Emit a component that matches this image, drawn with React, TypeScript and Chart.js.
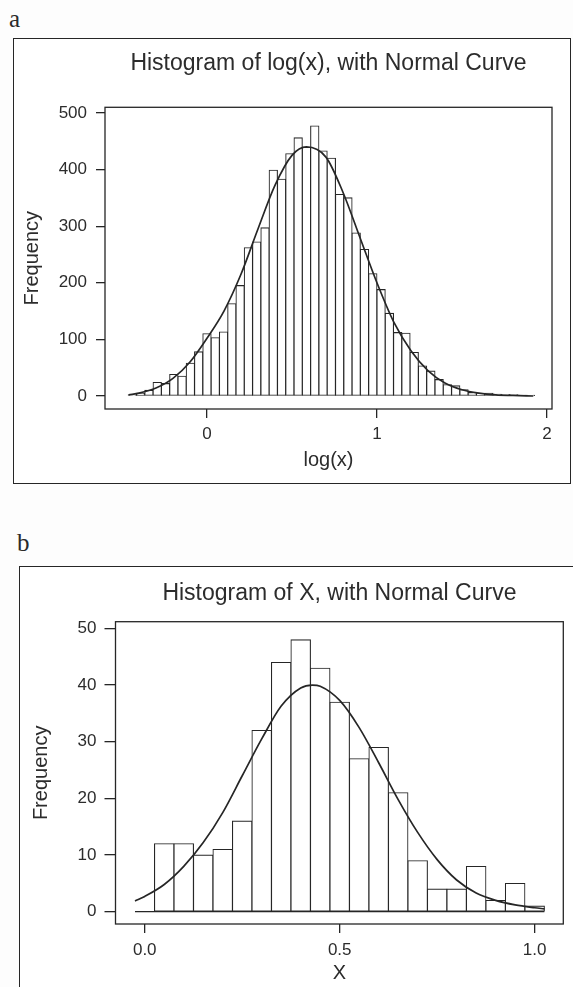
import React, { useEffect, useRef } from "react";
import { Chart, registerables } from "chart.js";

Chart.register(...registerables);

// ---------- Panel a: Histogram of log(x) ----------
const binMidsA = [
  -0.439, -0.3902, -0.3415, -0.2927, -0.2439, -0.1951, -0.1463, -0.0976, -0.0488,
  0, 0.0488, 0.0976, 0.1463, 0.1951, 0.2439, 0.2927, 0.3415, 0.3902, 0.439, 0.4878,
  0.5366, 0.5854, 0.6341, 0.6829, 0.7317, 0.7805, 0.8293, 0.878, 0.9268, 0.9756,
  1.0244, 1.0732, 1.122, 1.1707, 1.2195, 1.2683, 1.3171, 1.3659, 1.4146, 1.4634,
  1.5122, 1.561, 1.6098, 1.6585, 1.7073, 1.7561, 1.8049, 1.8537, 1.9024,
];
const countsA = [
  2, 5, 10, 24, 22, 38, 35, 58, 78,
  110, 103, 113, 163, 195, 262, 272, 297, 399, 383, 428,
  456, 439, 477, 433, 420, 356, 350, 288, 259, 216,
  188, 146, 112, 111, 77, 53, 44, 29, 20, 18,
  11, 6, 4, 5, 3, 2, 2, 1, 1,
];
const curveAX = [-0.46, -0.4, -0.3, -0.2, -0.1, 0, 0.1, 0.2, 0.3, 0.4, 0.5, 0.585, 0.7, 0.8, 0.9, 1.0, 1.1, 1.2, 1.3, 1.4, 1.5, 1.6, 1.7, 1.8, 1.92];
const curveAY = [2, 5, 14, 31, 60, 102, 150, 215, 295, 372, 425, 440, 422, 360, 280, 200, 130, 80, 45, 23, 11, 5, 2, 1, 0];
const xTicksA = [0, 1, 2];
const yTicksA = [0, 100, 200, 300, 400, 500];

// ---------- Panel b: Histogram of X ----------
const binMidsB = [0.05, 0.1, 0.15, 0.2, 0.25, 0.3, 0.35, 0.4, 0.45, 0.5, 0.55, 0.6, 0.65, 0.7, 0.75, 0.8, 0.85, 0.9, 0.95, 1.0];
const countsB = [12, 12, 10, 11, 16, 32, 44, 48, 43, 37, 27, 29, 21, 9, 4, 4, 8, 2, 5, 1];
const curveBX = [-0.025, 0.0, 0.05, 0.1, 0.15, 0.2, 0.25, 0.3, 0.35, 0.4, 0.43, 0.45, 0.5, 0.55, 0.6, 0.65, 0.7, 0.75, 0.8, 0.85, 0.9, 0.95, 1.0, 1.025];
const curveBY = [1.9, 2.7, 4.8, 8.0, 12.2, 17.5, 24.0, 30.5, 36.3, 39.5, 40.0, 39.8, 37.3, 32.5, 26.3, 19.8, 14.0, 9.2, 5.6, 3.3, 2.0, 1.2, 0.7, 0.5];
const xTicksB = [0, 0.5, 1];
const yTicksB = [0, 10, 20, 30, 40, 50];

const LINE = "#262626";
const TEXT = "#2c2c2c";
const FONT = "'Liberation Sans', Arial, Helvetica, sans-serif";

type Spec = {
  title: string;
  xTitle: string;
  mids: number[];
  counts: number[];
  cx: number[];
  cy: number[];
  zeroLine: boolean;
  xMin: number;
  xMax: number;
  yMin: number;
  yMax: number;
  xTicks: number[];
  yTicks: number[];
  xDecimals: number;
  width: number;
  height: number;
  yAxisWidth: number;
  xAxisHeight: number;
  padRight: number;
  titlePadTop: number;
  titlePadBottom: number;
  yTitlePad: number;
  yTickLen: number;
  yTickPad: number;
  xTickLen: number;
  xTickPad: number;
  xTitlePadBottom: number;
};

const plotBox = {
  id: "plotBox",
  afterDraw(chart: any) {
    const { ctx, chartArea: a } = chart;
    ctx.save();
    ctx.strokeStyle = LINE;
    ctx.lineWidth = 1.3;
    ctx.strokeRect(a.left, a.top, a.right - a.left, a.bottom - a.top);
    ctx.restore();
  },
};

function Panel({ spec, left, top }: { spec: Spec; left: number; top: number }) {
  const ref = useRef<HTMLCanvasElement>(null);
  useEffect(() => {
    const datasets: any[] = [
      {
        type: "line",
        data: spec.cx.map((x, i) => ({ x, y: spec.cy[i] })),
        borderColor: LINE,
        borderWidth: 1.7,
        pointRadius: 0,
        fill: false,
        cubicInterpolationMode: "monotone",
        order: 0,
      },
      {
        type: "bar",
        data: spec.mids.map((x, i) => ({ x, y: spec.counts[i] })),
        backgroundColor: "#ffffff",
        borderColor: LINE,
        borderWidth: 1.1,
        borderSkipped: false,
        inflateAmount: 0.5,
        barPercentage: 1,
        categoryPercentage: 1,
        order: 1,
      },
    ];
    if (spec.zeroLine) {
      datasets.push({
        type: "line",
        data: [
          { x: spec.cx[0], y: 0 },
          { x: spec.cx[spec.cx.length - 1], y: 0 },
        ],
        borderColor: LINE,
        borderWidth: 1.2,
        pointRadius: 0,
        fill: false,
        order: 2,
      });
    }
    const chart = new Chart(ref.current!, {
      type: "bar",
      data: { datasets },
      options: {
        animation: false,
        responsive: false,
        devicePixelRatio: 1,
        events: [],
        layout: { padding: { left: 0, right: spec.padRight, top: 0, bottom: 0 } },
        plugins: {
          legend: { display: false },
          tooltip: { enabled: false },
          title: {
            display: true,
            text: spec.title,
            fullSize: false,
            color: TEXT,
            font: { family: FONT, size: 23, weight: "normal", lineHeight: 1.2 },
            padding: { top: spec.titlePadTop, bottom: spec.titlePadBottom },
          },
        },
        scales: {
          x: {
            type: "linear",
            min: spec.xMin,
            max: spec.xMax,
            offset: false,
            afterBuildTicks: (axis: any) => {
              axis.ticks = spec.xTicks.map((v) => ({ value: v }));
            },
            afterFit: (s: any) => {
              s.height = spec.xAxisHeight;
            },
            grid: {
              offset: false,
              drawOnChartArea: false,
              drawTicks: true,
              tickLength: spec.xTickLen,
              color: LINE,
              lineWidth: 1.3,
            },
            border: { display: false },
            ticks: {
              autoSkip: false,
              maxRotation: 0,
              padding: spec.xTickPad,
              color: TEXT,
              font: { family: FONT, size: 17, lineHeight: 1.2 },
              callback: (v: any) => Number(v).toFixed(spec.xDecimals),
            },
            title: {
              display: true,
              text: spec.xTitle,
              color: TEXT,
              font: { family: FONT, size: 20, lineHeight: 1.2 },
              padding: { top: 0, bottom: spec.xTitlePadBottom },
            },
          },
          y: {
            type: "linear",
            min: spec.yMin,
            max: spec.yMax,
            afterBuildTicks: (axis: any) => {
              axis.ticks = spec.yTicks.map((v) => ({ value: v }));
            },
            afterFit: (s: any) => {
              s.width = spec.yAxisWidth;
            },
            grid: {
              drawOnChartArea: false,
              drawTicks: true,
              tickLength: spec.yTickLen,
              color: LINE,
              lineWidth: 1.3,
            },
            border: { display: false },
            ticks: {
              autoSkip: false,
              padding: spec.yTickPad,
              color: TEXT,
              font: { family: FONT, size: 17, lineHeight: 1.2 },
              callback: (v: any) => String(v),
            },
            title: {
              display: true,
              text: "Frequency",
              color: TEXT,
              font: { family: FONT, size: 20, lineHeight: 1.2 },
              padding: { top: spec.yTitlePad, bottom: 0 },
            },
          },
        },
      } as any,
      plugins: [plotBox],
    });
    return () => chart.destroy();
  }, [spec]);
  return (
    <canvas
      ref={ref}
      width={spec.width}
      height={spec.height}
      style={{ position: "absolute", left, top, width: spec.width, height: spec.height }}
    />
  );
}

const specA: Spec = {
  title: "Histogram of log(x), with Normal Curve",
  xTitle: "log(x)",
  mids: binMidsA,
  counts: countsA,
  cx: curveAX,
  cy: curveAY,
  zeroLine: false,
  xMin: -0.6,
  xMax: 2.03,
  yMin: -23,
  yMax: 510,
  xTicks: xTicksA,
  yTicks: yTicksA,
  xDecimals: 0,
  width: 554,
  height: 442,
  yAxisWidth: 90,
  xAxisHeight: 73,
  padRight: 17,
  titlePadTop: 10,
  titlePadBottom: 29.7,
  yTitlePad: 5,
  yTickLen: 9,
  yTickPad: 9,
  xTickLen: 9,
  xTickPad: 6,
  xTitlePadBottom: 10,
};

const specB: Spec = {
  title: "Histogram of X, with Normal Curve",
  xTitle: "X",
  mids: binMidsB,
  counts: countsB,
  cx: curveBX,
  cy: curveBY,
  zeroLine: true,
  xMin: -0.075,
  xMax: 1.0735,
  yMin: -2.17,
  yMax: 51.2,
  xTicks: xTicksB,
  yTicks: yTicksB,
  xDecimals: 1,
  width: 552,
  height: 419,
  yAxisWidth: 94.5,
  xAxisHeight: 63,
  padRight: 9.7,
  titlePadTop: 11.5,
  titlePadBottom: 14.6,
  yTitlePad: 8,
  yTickLen: 11,
  yTickPad: 8,
  xTickLen: 9,
  xTickPad: 7,
  xTitlePadBottom: 2,
};

export default function App() {
  const labelStyle: React.CSSProperties = {
    position: "absolute",
    fontFamily: "'Liberation Serif', 'Times New Roman', serif",
    fontSize: 25,
    lineHeight: "25px",
    color: "#2a2a2a",
  };
  return (
    <div
      style={{
        position: "absolute",
        left: 0,
        top: 0,
        width: 573,
        height: 987,
        overflow: "hidden",
        background: "#fdfdfd",
      }}
    >
      <div style={{ ...labelStyle, left: 9, top: 6 }}>a</div>
      <div
        style={{
          position: "absolute",
          left: 13,
          top: 38,
          width: 558,
          height: 446,
          boxSizing: "border-box",
          border: `1.5px solid ${LINE}`,
          background: "#ffffff",
        }}
      />
      <Panel spec={specA} left={15} top={40} />

      <div style={{ ...labelStyle, left: 17, top: 530 }}>b</div>
      <div
        style={{
          position: "absolute",
          left: 19,
          top: 566,
          width: 600,
          height: 500,
          boxSizing: "border-box",
          border: `1.5px solid ${LINE}`,
          background: "#ffffff",
        }}
      />
      <Panel spec={specB} left={21} top={568} />
    </div>
  );
}
